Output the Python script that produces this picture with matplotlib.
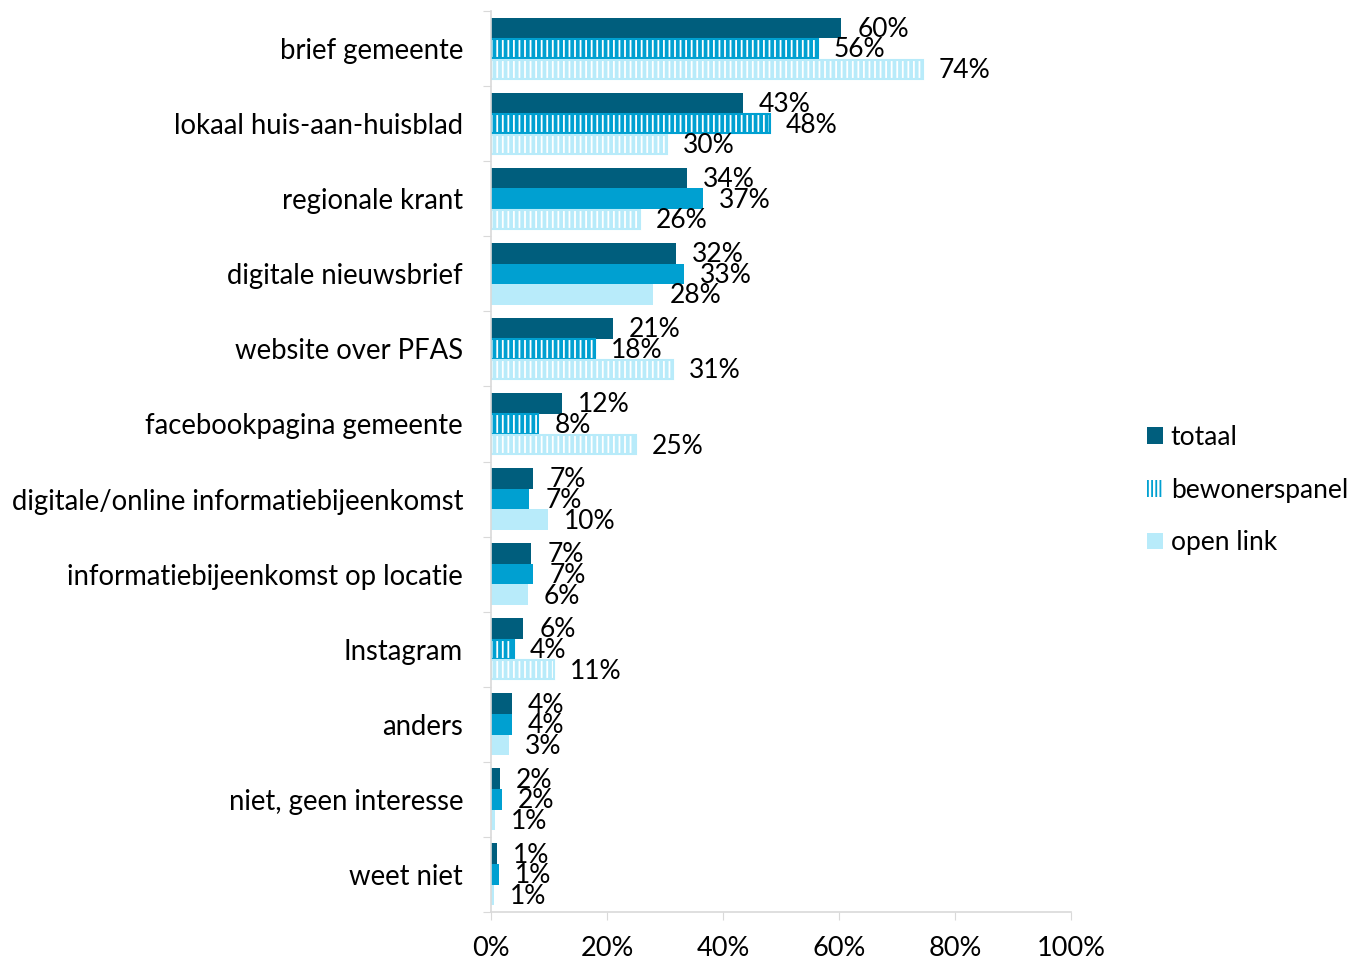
import numpy as np
import matplotlib
matplotlib.use('Agg')
import matplotlib.pyplot as plt
from matplotlib.patches import Patch

plt.rcParams['font.family'] = ['Lato', 'DejaVu Sans']
plt.rcParams['hatch.linewidth'] = 1.3

categories = ['brief gemeente', 'lokaal huis-aan-huisblad', 'regionale krant',
              'digitale nieuwsbrief', 'website over PFAS', 'facebookpagina gemeente',
              'digitale/online informatiebijeenkomst', 'informatiebijeenkomst op locatie',
              'Instagram', 'anders', 'niet, geen interesse', 'weet niet']
totaal = [60.4, 43.4, 33.8, 31.9, 21.0, 12.2, 7.3, 7.0, 5.6, 3.6, 1.6, 1.0]
bewonerspanel = [56.3, 48.1, 36.6, 33.3, 18.0, 8.2, 6.6, 7.3, 3.9, 3.6, 1.9, 1.4]
open_link = [74.4, 30.4, 25.7, 28.0, 31.4, 25.0, 9.8, 6.4, 10.9, 3.1, 0.7, 0.6]
# gearceerd = significant verschil
bew_hatch = [1, 1, 0, 0, 1, 1, 0, 0, 1, 0, 0, 0]
open_hatch = [1, 1, 1, 0, 1, 1, 0, 0, 1, 0, 0, 0]
series_names = ['totaal', 'bewonerspanel', 'open link']
colors = ['#005E7D', '#00A0D1', '#B8EBFA']

fig = plt.figure(figsize=(13.56, 9.61), dpi=100)
ax = fig.add_axes([0.362, 0.051, 0.428, 0.9375])

y = np.arange(len(categories))
h = 0.275
series = [totaal, bewonerspanel, open_link]
hatches = [[0] * len(categories), bew_hatch, open_hatch]

for k, (vals, col, hat) in enumerate(zip(series, colors, hatches)):
    pos = y + (k - 1) * h
    for yi, v, hh in zip(pos, vals, hat):
        if hh:
            ax.barh(yi, v, height=h, color=col, edgecolor='white', hatch='|||', linewidth=0)
            ax.barh(yi, v, height=h * 0.93, fill=False, edgecolor=col, linewidth=1.5)
        else:
            ax.barh(yi, v, height=h, color=col, linewidth=0)
        ax.annotate(f'{round(v)}%', xy=(v, yi), xytext=(11.5, -1), textcoords='offset points',
                    va='center', ha='left', fontsize=19, color='black')

ax.set_xlim(0, 100)
ax.set_ylim(len(categories) - 0.5, -0.5)
ax.set_xticks(np.arange(0, 101, 20))
ax.set_xticklabels([f'{t}%' for t in range(0, 101, 20)], fontsize=19.5)
ax.set_yticks(np.arange(len(categories) + 1) - 0.5)
ax.set_yticklabels([])
ax.set_yticks(y, minor=True)
ax.set_yticklabels(categories, minor=True, fontsize=19.8)
ax.tick_params(axis='y', which='minor', length=0, pad=20)
ax.tick_params(axis='y', which='major', length=6, color='#D9D9D9')
ax.tick_params(axis='x', length=6, color='#D9D9D9', pad=11)
for s in ['top', 'right']:
    ax.spines[s].set_visible(False)
for s in ['left', 'bottom']:
    ax.spines[s].set_color('#D9D9D9')
    ax.spines[s].set_linewidth(1.2)

handles = [Patch(facecolor=colors[0], linewidth=0),
           Patch(facecolor='white', edgecolor=colors[1], hatch='||||', linewidth=0),
           Patch(facecolor=colors[2], linewidth=0)]
fig.legend(handles, series_names, loc='center left', bbox_to_anchor=(0.838, 0.49),
           frameon=False, fontsize=19, handlelength=0.6, handleheight=0.6,
           handletextpad=0.3, labelspacing=1.05, borderaxespad=0)

fig.savefig('out.png', dpi=100)
